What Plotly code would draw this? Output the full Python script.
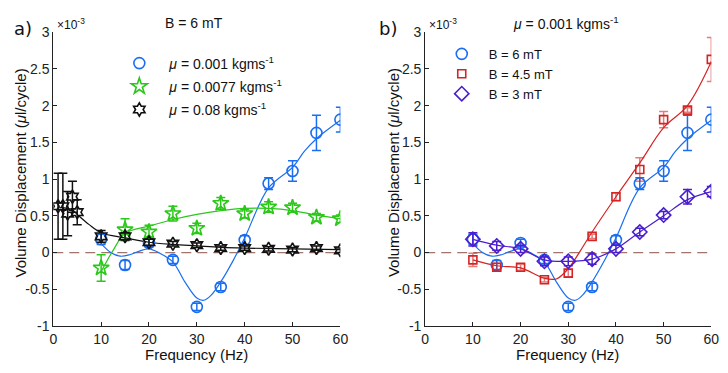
import plotly.graph_objects as go

# ---------------- data (values in units of 1e-3 ul/cycle) ----------------
freq = [10, 15, 20, 25, 30, 35, 40, 45, 50, 55, 60]

# panel a) B = 6 mT
blue_y   = [0.18, -0.17, 0.13, -0.10, -0.74, -0.47, 0.17, 0.94, 1.11, 1.63, 1.81]
blue_err = [0.07, 0.06, 0.05, 0.05, 0.05, 0.05, 0.06, 0.08, 0.14, 0.24, 0.17]

green_y   = [-0.21, 0.31, 0.28, 0.53, 0.33, 0.67, 0.53, 0.62, 0.61, 0.48, 0.46]
green_err = [0.18, 0.15, 0.09, 0.10, 0.07, 0.08, 0.06, 0.07, 0.06, 0.05, 0.05]

black_x   = [1, 2, 3, 4, 5, 10, 15, 20, 25, 30, 35, 40, 45, 50, 55, 60]
black_y   = [0.63, 0.63, 0.53, 0.76, 0.55, 0.22, 0.22, 0.14, 0.12, 0.10, 0.06, 0.06, 0.05, 0.04, 0.06, 0.03]
black_err = [0.45, 0.45, 0.30, 0.21, 0.17, 0.08, 0.05, 0.04, 0.03, 0.03, 0.03, 0.03, 0.03, 0.03, 0.03, 0.03]

# panel b) mu = 0.001
red_y   = [-0.10, -0.20, -0.20, -0.37, -0.28, 0.22, 0.76, 1.13, 1.81, 1.94, 2.63]
red_err = [0.09, 0.05, 0.04, 0.03, 0.05, 0.03, 0.05, 0.16, 0.11, 0.03, 0.30]

purple_y   = [0.18, 0.09, 0.05, -0.12, -0.12, -0.09, 0.05, 0.28, 0.51, 0.76, 0.83]
purple_err = [0.09, 0.06, 0.05, 0.06, 0.06, 0.07, 0.05, 0.05, 0.05, 0.10, 0.07]

# fitted curves
blue_fit_x = [10, 12, 14, 16, 18, 20, 22, 25, 27.5, 30, 31.5, 33, 35, 37.5, 40, 45, 50, 52.5, 55, 60]
blue_fit_y = [0.12, 0.0, -0.05, -0.03, 0.02, 0.05, 0.0, -0.13, -0.40, -0.62, -0.65, -0.58, -0.40, -0.12, 0.20, 0.88, 1.16, 1.38, 1.55, 1.80]

green_fit_x = [10, 12.5, 15, 20, 25, 30, 35, 40, 45, 50, 55, 60]
green_fit_y = [-0.26, 0.03, 0.26, 0.36, 0.45, 0.52, 0.57, 0.60, 0.60, 0.57, 0.51, 0.46]

black_fit_x = [1, 2, 3, 4, 5, 7.5, 10, 15, 20, 25, 30, 35, 40, 50, 60]
black_fit_y = [0.62, 0.61, 0.60, 0.58, 0.52, 0.38, 0.27, 0.20, 0.14, 0.11, 0.09, 0.07, 0.06, 0.05, 0.04]

red_fit_x = [10, 15, 20, 25, 27.5, 30, 32.5, 35, 40, 45, 50, 55, 60]
red_fit_y = [-0.10, -0.18, -0.21, -0.35, -0.36, -0.22, 0.02, 0.28, 0.76, 1.22, 1.70, 2.00, 2.60]

purple_fit_x = freq
purple_fit_y = [0.18, 0.10, 0.05, -0.10, -0.12, -0.09, 0.05, 0.28, 0.50, 0.72, 0.83]

x_ticks = [0, 10, 20, 30, 40, 50, 60]
y_ticks = [-1, -0.5, 0, 0.5, 1, 1.5, 2, 2.5, 3]
y_tick_text = ["-1", "-0.5", "0", "0.5", "1", "1.5", "2", "2.5", "3"]

# ---------------- styling ----------------
BLUE = "#1a6ef2"
GREEN = "#2bc81a"
BLACK = "#111111"
RED = "#d42424"
PURPLE = "#4a1ed0"
ZERO = "#a0766c"
FONT = "Liberation Sans"
# page is 728x373; the browser's default 8px body margin surrounds the figure
OFF = 8
W, H = 728 - 2 * OFF, 373 - 2 * OFF

fig = go.Figure()


def px(x):
    return (x - OFF) / W


def py(y):
    return 1 - (y - OFF) / H


def add_series(x, y, err, color, symbol, size, name, xa, ya, legend, err_color=None):
    fig.add_trace(go.Scatter(
        x=x, y=y, mode="markers", name=name, xaxis=xa, yaxis=ya, legend=legend,
        legendgroup=name,
        marker=dict(symbol=symbol, size=size, color=color, line=dict(color=color, width=1.6)),
        error_y=dict(type="data", array=err, visible=True,
                     color=err_color or color, thickness=1.5, width=4.5),
        showlegend=True,
    ))


def add_fit(x, y, color, xa, ya):
    fig.add_trace(go.Scatter(
        x=x, y=y, mode="lines", line=dict(color=color, width=1.2, shape="spline", smoothing=1.0),
        xaxis=xa, yaxis=ya, showlegend=False, hoverinfo="skip",
    ))


# panel a
add_fit(blue_fit_x, blue_fit_y, BLUE, "x", "y")
add_fit(green_fit_x, green_fit_y, GREEN, "x", "y")
add_fit(black_fit_x, black_fit_y, BLACK, "x", "y")
add_series(freq, blue_y, blue_err, BLUE, "circle-open", 11,
           "<i>μ</i> = 0.001 kgms<sup>-1</sup>", "x", "y", "legend")
add_series(freq, green_y, green_err, GREEN, "star-open", 12,
           "<i>μ</i> = 0.0077 kgms<sup>-1</sup>", "x", "y", "legend")
add_series(black_x, black_y, black_err, BLACK, "hexagram-open", 10,
           "<i>μ</i> = 0.08 kgms<sup>-1</sup>", "x", "y", "legend")

# panel b
add_fit(blue_fit_x, blue_fit_y, BLUE, "x2", "y2")
add_fit(red_fit_x, red_fit_y, RED, "x2", "y2")
add_fit(purple_fit_x, purple_fit_y, PURPLE, "x2", "y2")
add_series(freq, blue_y, blue_err, BLUE, "circle-open", 11, "B = 6 mT", "x2", "y2", "legend2")
add_series(freq, red_y, red_err, RED, "square-open", 8, "B = 4.5 mT", "x2", "y2", "legend2",
           err_color="rgba(212,36,36,0.6)")
add_series(freq, purple_y, purple_err, PURPLE, "diamond-open", 11, "B = 3 mT", "x2", "y2", "legend2")

axis_common = dict(
    showgrid=False, zeroline=False, showline=True, linecolor="#222", linewidth=1,
    ticks="inside", ticklen=4, tickcolor="#222", mirror=False,
    tickfont=dict(family=FONT, size=14, color="#222"),
)
xax = dict(axis_common, range=[0, 60], tickvals=x_ticks)
yax = dict(axis_common, range=[-1, 3], tickvals=y_ticks, ticktext=y_tick_text)

fig.update_layout(
    width=W, height=H, margin=dict(l=0, r=0, t=0, b=0),
    paper_bgcolor="white", plot_bgcolor="white",
    xaxis=dict(xax, domain=[px(50), px(342)], anchor="y"),
    yaxis=dict(yax, domain=[py(332.5), py(25)], anchor="x"),
    xaxis2=dict(xax, domain=[px(428.3), px(719.3)], anchor="y2"),
    yaxis2=dict(yax, domain=[py(332.5), py(25)], anchor="x2"),
    legend=dict(x=px(107), y=py(41), xanchor="left", yanchor="top",
                bgcolor="rgba(0,0,0,0)", font=dict(family=FONT, size=14, color="#111"),
                itemwidth=50, tracegroupgap=2),
    legend2=dict(x=px(438), y=py(32), xanchor="left", yanchor="top",
                 bgcolor="rgba(0,0,0,0)", font=dict(family=FONT, size=13, color="#111"),
                 itemwidth=44, tracegroupgap=0),
    showlegend=True,
)

# zero dashed lines
for xr, yr in (("x", "y"), ("x2", "y2")):
    fig.add_shape(type="line", xref=xr, yref=yr, x0=0, x1=60, y0=0, y1=0,
                  line=dict(color=ZERO, width=1.3, dash="10px,6px"), layer="below")

ann = []
def text(x, y, s, size=14, family=FONT, angle=0, xanchor="center", yanchor="middle"):
    ann.append(dict(x=px(x), y=py(y), xref="paper", yref="paper", text=s, showarrow=False,
                    font=dict(family=family, size=size, color="#111"), textangle=angle,
                    xanchor=xanchor, yanchor=yanchor))

text(8, 8, "a)", size=18, family="DejaVu Sans", xanchor="left", yanchor="top")
text(379, 8, "b)", size=18, family="DejaVu Sans", xanchor="left", yanchor="top")
text(193, 15, "B = 6 mT", size=14)
text(572, 15, "<i>μ</i> = 0.001 kgms<sup>-1</sup>", size=14)
text(52, 16, "×10<sup>-3</sup>", size=12, xanchor="left")
text(430, 16, "×10<sup>-3</sup>", size=12, xanchor="left")
text(196, 362, "Frequency (Hz)", size=15)
text(573, 362, "Frequency (Hz)", size=15)
text(17, 172, "Volume Displacement (<i>μ</i>l/cycle)", size=15, angle=-90)
text(396, 172, "Volume Displacement (<i>μ</i>l/cycle)", size=15, angle=-90)
fig.update_layout(annotations=ann)

fig.write_html("out.html", config={"displayModeBar": False})
